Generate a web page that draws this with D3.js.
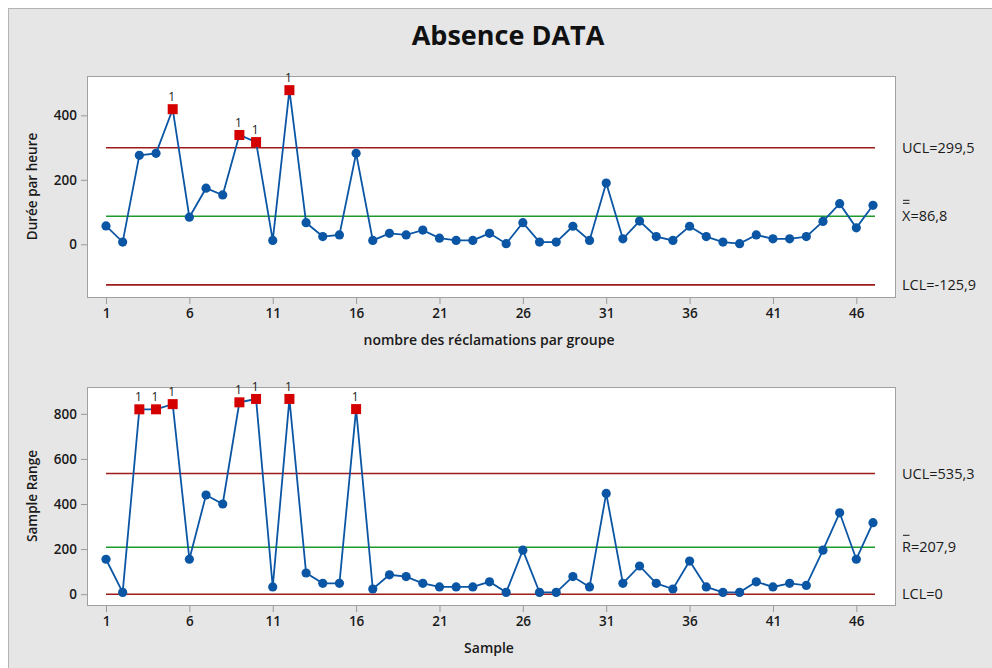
<!DOCTYPE html>
<html>
<head>
<meta charset="utf-8">
<script src="https://cdn.jsdelivr.net/npm/d3@7"></script>
<style>
  body { margin: 0; background: #fff; }
  svg { display: block; font-family: "Open Sans", "Noto Sans", sans-serif; }
</style>
</head>
<body>
<script>
// sample numbers 1..47
var samples = d3.range(1, 48);

// individual values (top chart)
var xbarValues = [57, 7, 276, 282, 419, 84, 174, 153, 339, 317,
  12, 478, 67, 24, 29, 282, 12, 34, 29, 44,
  19, 12, 12, 34, 2, 67, 7, 7, 56, 12,
  190, 17, 72, 24, 12, 56, 24, 7, 2, 29,
  17, 17, 24, 71, 126, 51, 121];

// sample ranges (bottom chart)
var rangeValues = [155, 8, 820, 820, 843, 155, 440, 400, 851, 866,
  32, 866, 94, 48, 48, 821, 23, 86, 78, 48,
  32, 32, 32, 55, 8, 195, 8, 8, 78, 32,
  447, 48, 125, 48, 23, 147, 32, 8, 8, 55,
  32, 48, 39, 195, 361, 155, 317];

// control limits
var xbarLimits = { ucl: 299.5, center: 86.8, lcl: -125.9 };
var rangeLimits = { ucl: 535.3, center: 207.9, lcl: 0 };

var xTicks = [1, 6, 11, 16, 21, 26, 31, 36, 41, 46];
var xbarTicks = [0, 200, 400];
var rangeTicks = [0, 200, 400, 600, 800];

var W = 992, H = 668;
var blue = "#0b56a4", red = "#d40000", limitRed = "#9e1b1b", green = "#1f9a2e";

var svg = d3.select("body").append("svg")
    .attr("width", W)
    .attr("height", H);

// outer grey panel
svg.append("rect")
    .attr("x", 8.5).attr("y", 8.5)
    .attr("width", W).attr("height", H)
    .attr("fill", "#e6e6e6")
    .attr("stroke", "#b4b4b4");

svg.append("text")
    .attr("x", 508).attr("y", 45)
    .attr("text-anchor", "middle")
    .attr("font-size", "27px")
    .attr("font-weight", "bold")
    .attr("fill", "#111")
    .text("Absence DATA");

var x = d3.scaleLinear().domain([1, 47]).range([106, 873]);

function drawPanel(opt) {
  var y = d3.scaleLinear().domain(opt.domain).range([opt.bottom, opt.top]);
  var g = svg.append("g");

  g.append("rect")
      .attr("x", 87.5).attr("y", opt.top + 0.5)
      .attr("width", 808).attr("height", opt.bottom - opt.top)
      .attr("fill", "#fff")
      .attr("stroke", "#a0a0a0");

  // axes
  var xAxis = d3.axisBottom(x).tickValues(xTicks).tickSize(6).tickPadding(4);
  var gx = g.append("g")
      .attr("transform", "translate(0," + (opt.bottom + 1) + ")")
      .call(xAxis);
  var yAxis = d3.axisLeft(y).tickValues(opt.ticks).tickSize(6).tickPadding(4);
  var gy = g.append("g")
      .attr("transform", "translate(87,0)")
      .call(yAxis);
  [gx, gy].forEach(function(a) {
    a.select(".domain").remove();
    a.selectAll(".tick line").attr("stroke", "#999");
    a.selectAll(".tick text")
      .attr("font-size", "13.5px")
      .attr("font-family", "'Open Sans', sans-serif")
      .attr("font-weight", "600")
      .attr("fill", "#1a1a1a");
  });

  g.append("text")
      .attr("x", 489).attr("y", opt.bottom + 48)
      .attr("text-anchor", "middle")
      .attr("font-size", "14px")
      .attr("font-weight", "600")
      .attr("fill", "#1a1a1a")
      .text(opt.xLabel);

  g.append("text")
      .attr("transform", "translate(37," + ((opt.top + opt.bottom) / 2) + ") rotate(-90)")
      .attr("text-anchor", "middle")
      .attr("font-size", "13.5px")
      .attr("font-weight", "600")
      .attr("fill", "#1a1a1a")
      .text(opt.yLabel);

  // control lines
  var lines = [
    { v: opt.limits.ucl, c: limitRed },
    { v: opt.limits.center, c: green },
    { v: opt.limits.lcl, c: limitRed }
  ];
  g.selectAll(".cl").data(lines).enter().append("line")
      .attr("x1", x(1)).attr("x2", x(47) + 2)
      .attr("y1", function(d) { return y(d.v); })
      .attr("y2", function(d) { return y(d.v); })
      .attr("stroke", function(d) { return d.c; })
      .attr("stroke-width", 1.6);

  // limit labels
  var labels = [
    { v: opt.limits.ucl, t: opt.labels[0] },
    { v: opt.limits.center, t: opt.labels[1] },
    { v: opt.limits.lcl, t: opt.labels[2] }
  ];
  g.selectAll(".ll").data(labels).enter().append("text")
      .attr("x", 902)
      .attr("y", function(d) { return y(d.v) + 5; })
      .attr("font-size", "14.5px")
      .attr("fill", "#1a1a1a")
      .text(function(d) { return d.t; });
  // bars over the center symbol
  var cy = y(opt.limits.center);
  opt.bars.forEach(function(off) {
    g.append("line")
        .attr("x1", 903).attr("x2", 909.5)
        .attr("y1", cy - off).attr("y2", cy - off)
        .attr("stroke", "#1a1a1a").attr("stroke-width", 1);
  });

  var data = samples.map(function(s, i) { return { s: s, v: opt.values[i] }; });

  g.append("path")
      .datum(data)
      .attr("fill", "none")
      .attr("stroke", blue)
      .attr("stroke-width", 1.8)
      .attr("d", d3.line().x(function(d) { return x(d.s); }).y(function(d) { return y(d.v); }));

  var out = function(d) { return d.v > opt.limits.ucl || d.v < opt.limits.lcl; };

  g.selectAll(".pt").data(data.filter(function(d) { return !out(d); })).enter().append("circle")
      .attr("cx", function(d) { return x(d.s); })
      .attr("cy", function(d) { return y(d.v); })
      .attr("r", 4.6)
      .attr("fill", blue);

  var bad = data.filter(out);
  g.selectAll(".sq").data(bad).enter().append("rect")
      .attr("x", function(d) { return x(d.s) - 5; })
      .attr("y", function(d) { return y(d.v) - 5; })
      .attr("width", 10).attr("height", 10)
      .attr("fill", red);
  g.selectAll(".one").data(bad).enter().append("text")
      .attr("x", function(d) { return x(d.s) - 1; })
      .attr("y", function(d) { return y(d.v) - 8; })
      .attr("text-anchor", "middle")
      .attr("font-size", "12px")
      .attr("fill", "#1a1a1a")
      .text("1");
}

drawPanel({
  top: 76, bottom: 297, domain: [-163.4, 521.9], ticks: xbarTicks,
  values: xbarValues, limits: xbarLimits,
  labels: ["UCL=299,5", "X=86,8", "LCL=-125,9"], bars: [13, 16],
  xLabel: "nombre des réclamations par groupe", yLabel: "Durée par heure"
});

drawPanel({
  top: 387, bottom: 605, domain: [-48, 919], ticks: rangeTicks,
  values: rangeValues, limits: rangeLimits,
  labels: ["UCL=535,3", "R=207,9", "LCL=0"], bars: [12],
  xLabel: "Sample", yLabel: "Sample Range"
});
</script>
</body>
</html>
